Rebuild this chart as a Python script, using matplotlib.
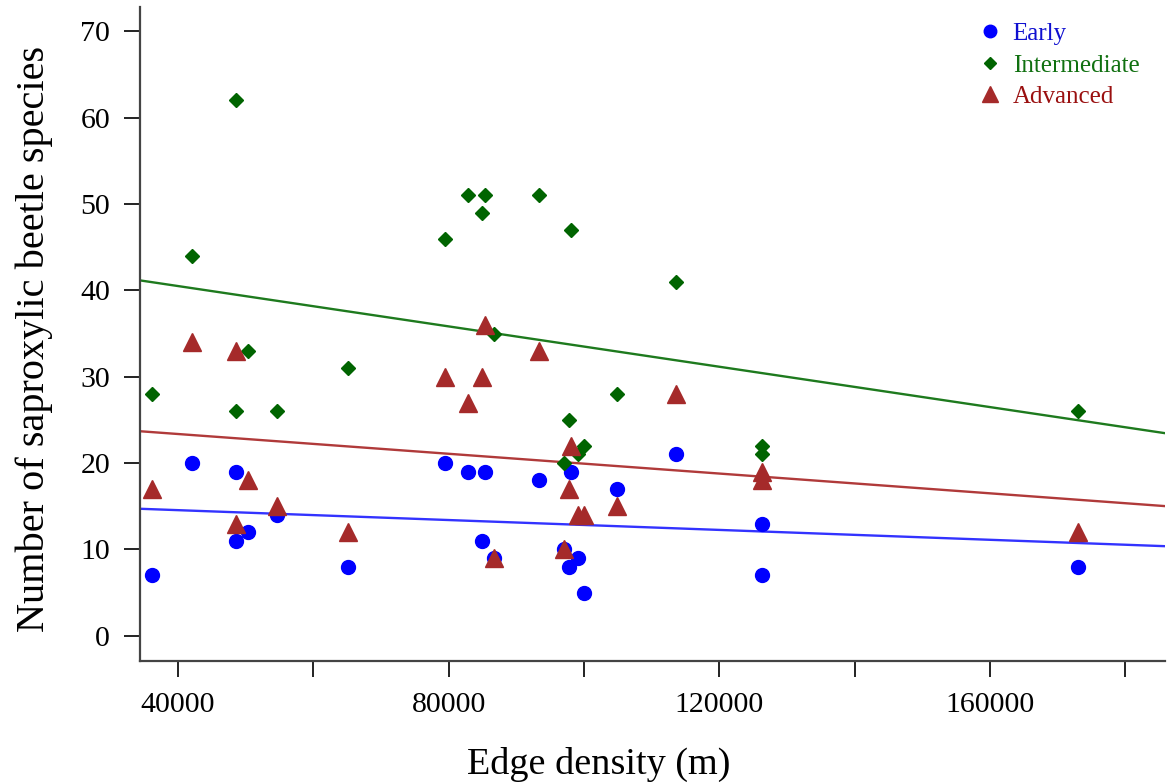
import matplotlib.pyplot as plt
import numpy as np

plt.rcParams['font.family'] = ['Liberation Serif', 'DejaVu Serif']

# edge density (m) of each site
edge_density = [36200, 42100, 48600, 48600, 50300, 54600, 65200, 79500, 82900,
                85000, 85400, 86700, 93400, 97100, 97800, 98100, 99100, 100000,
                104900, 113600, 126300, 126300, 173000]

# species counts per successional stage, same site order
early = [7, 20, 19, 11, 12, 14, 8, 20, 19,
         11, 19, 9, 18, 10, 8, 19, 9, 5,
         17, 21, 13, 7, 8]
intermediate = [28, 44, 62, 26, 33, 26, 31, 46, 51,
                49, 51, 35, 51, 20, 25, 47, 21, 22,
                28, 41, 22, 21, 26]
advanced = [17, 34, 33, 13, 18, 15, 12, 30, 27,
            30, 36, 9, 33, 10, 17, 22, 14, 14,
            15, 28, 19, 18, 12]

groups = ['Early', 'Intermediate', 'Advanced']
values = [early, intermediate, advanced]
colors = ['#0000FF', '#006400', '#A52A2A']
line_colors = ['#3333FF', '#1E7A1E', '#B03A3A']
text_colors = ['#1010D0', '#107010', '#9A1010']
markers = ['o', 'D', '^']
msizes = [10, 6.8, 13]

fig = plt.figure(figsize=(11.67, 7.84), dpi=100)
ax = fig.add_axes([0.12, 0.157, 0.878, 0.834])

x = np.array(edge_density, dtype=float)
xl = np.array([34400, 185800])
handles = []
for name, vals, c, lc, m, ms in zip(groups, values, colors, line_colors, markers, msizes):
    y = np.array(vals, dtype=float)
    slope, icpt = np.polyfit(x, y, 1)
    ax.plot(xl, icpt + slope * xl, color=lc, lw=1.7, zorder=1)
    h, = ax.plot(x, y, linestyle='none', marker=m, ms=ms, color=c, mec=c, zorder=2)
    handles.append(h)

ax.set_xlim(34400, 185800)
ax.set_ylim(-2.9, 72.8)
ax.set_xticks(np.arange(40000, 185000, 20000))
ax.set_xticklabels(['40000', '', '80000', '', '120000', '', '160000', ''])
ax.set_yticks(np.arange(0, 71, 10))

for s in ['top', 'right']:
    ax.spines[s].set_visible(False)
for s in ['left', 'bottom']:
    ax.spines[s].set_color('#444444')
    ax.spines[s].set_linewidth(1.6)

ax.tick_params(axis='both', direction='out', length=11.5, width=1.4, color='#222222',
               labelsize=21.5)
ax.tick_params(axis='x', pad=11)
ax.tick_params(axis='y', pad=10)
ax.set_xlabel('Edge density (m)', fontsize=27.5)
ax.xaxis.set_label_coords(0.448, -0.131)
ax.set_ylabel('Number of saproxylic beetle species', fontsize=29)
ax.yaxis.set_label_coords(-0.085, 0.493)

leg = ax.legend(handles, groups, loc='upper left', bbox_to_anchor=(0.815, 0.976),
                frameon=False, fontsize=18, handletextpad=0.3, labelspacing=0.36,
                handlelength=1.2, borderaxespad=0, borderpad=0)
for t, c in zip(leg.get_texts(), text_colors):
    t.set_color(c)
for lh, ms in zip(leg.legend_handles, [9, 6.5, 12]):
    lh.set_markersize(ms)

fig.savefig('out.png', dpi=100)
